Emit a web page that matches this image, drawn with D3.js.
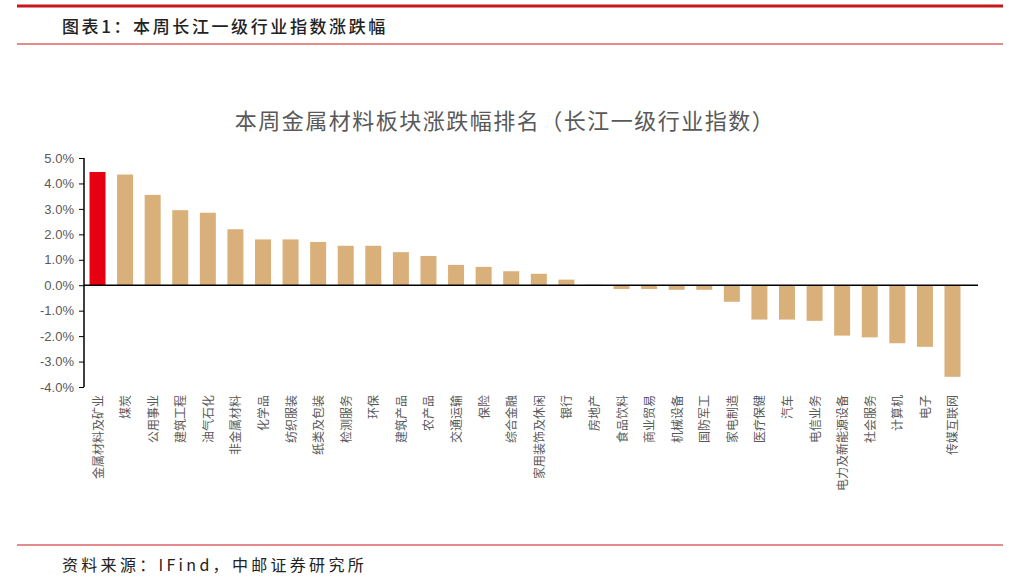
<!DOCTYPE html>
<html><head><meta charset="utf-8">
<script src="https://cdn.jsdelivr.net/npm/d3@7"></script>
<style>body{margin:0;background:#fff}svg{display:block}</style>
</head><body><svg id="c" width="1009" height="580"></svg>
<script>
const categories = ["金属材料及矿业","煤炭","公用事业","建筑工程","油气石化","非金属材料","化学品","纺织服装","纸类及包装","检测服务","环保","建筑产品","农产品","交通运输","保险","综合金融","家用装饰及休闲","银行","房地产","食品饮料","商业贸易","机械设备","国防军工","家电制造","医疗保健","汽车","电信业务","电力及新能源设备","社会服务","计算机","电子","传媒互联网"];
const values = [4.45,4.35,3.55,2.95,2.85,2.2,1.8,1.8,1.7,1.55,1.55,1.3,1.15,0.8,0.72,0.55,0.45,0.22,0.02,-0.15,-0.15,-0.18,-0.18,-0.65,-1.35,-1.35,-1.4,-1.98,-2.05,-2.28,-2.42,-3.6];
const yTicks = [5,4,3,2,1,0,-1,-2,-3,-4];
const font = "'Noto Sans CJK SC', sans-serif";

const svg = d3.select("#c");
svg.append("line").attr("x1",17).attr("x2",1003).attr("y1",6).attr("y2",6).attr("stroke","#c8161d").attr("stroke-width",3);
svg.append("line").attr("x1",17).attr("x2",1003).attr("y1",44).attr("y2",44).attr("stroke","#c8161d").attr("stroke-width",1);
svg.append("line").attr("x1",17).attr("x2",1003).attr("y1",545).attr("y2",545).attr("stroke","#c8161d").attr("stroke-width",1);
svg.append("text").attr("x",62).attr("y",33).attr("font-family",font).attr("font-size",17).attr("font-weight",500).attr("fill","#222").attr("letter-spacing",2.6).text("图表1：本周长江一级行业指数涨跌幅");
svg.append("text").attr("x",62).attr("y",571).attr("font-family",font).attr("font-size",16).attr("fill","#222").attr("letter-spacing",3.3).text("资料来源：IFind，中邮证券研究所");
svg.append("text").attr("x",505).attr("y",129).attr("text-anchor","middle").attr("font-family",font).attr("font-size",22).attr("letter-spacing",1.5).attr("fill","#595959").text("本周金属材料板块涨跌幅排名（长江一级行业指数）");

const x = d3.scaleBand().domain(categories).range([84,966]).paddingInner(0.42).paddingOuter(0.2);
const y = d3.scaleLinear().domain([-4,5]).range([387,158]);

svg.selectAll("rect.bar").data(values).join("rect")
  .attr("x",(d,i)=>x(categories[i])).attr("width",x.bandwidth())
  .attr("y",d=>y(Math.max(0,d))).attr("height",d=>Math.abs(y(d)-y(0)))
  .attr("fill",(d,i)=>i===0?"#e60012":"#d9b07a");

const ya = svg.append("g").attr("transform","translate(84,0)")
  .call(d3.axisLeft(y).tickValues(yTicks).tickSize(5).tickFormat(d=>d.toFixed(1)+"%"));
ya.select(".domain").attr("stroke","#000").attr("stroke-width",1.5).attr("d","M0,158V387");
ya.selectAll("line").attr("stroke","#000");
ya.selectAll("text").attr("font-family","'Liberation Sans', sans-serif").attr("font-size",13).attr("fill","#595959").attr("x",-10);

svg.append("line").attr("x1",84).attr("x2",978).attr("y1",y(0)).attr("y2",y(0)).attr("stroke","#000").attr("stroke-width",1.5);

svg.selectAll("text.cat").data(categories).join("text")
  .attr("transform",d=>`translate(${x(d)+x.bandwidth()/2+5},395) rotate(-90)`)
  .attr("text-anchor","end").attr("font-family",font).attr("font-size",12).attr("fill","#595959").text(d=>d);
</script></body></html>
